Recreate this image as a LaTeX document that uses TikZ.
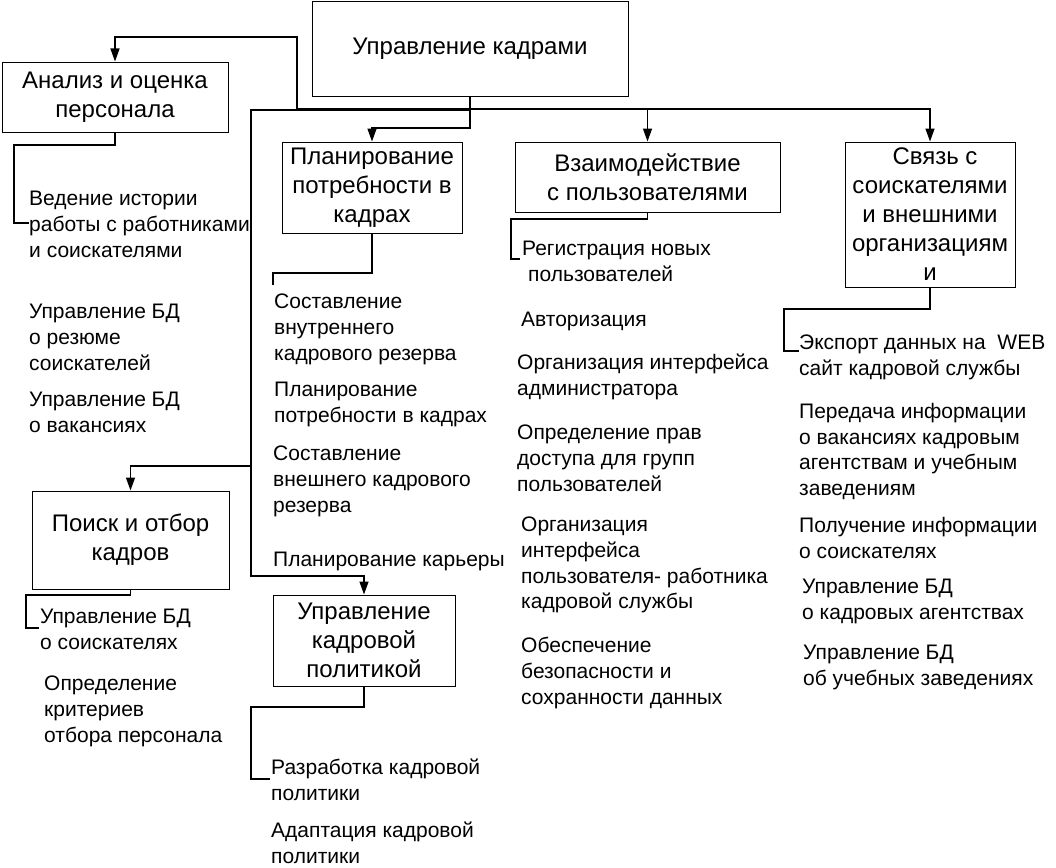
\documentclass[tikz,border=0pt]{standalone}
\usepackage{fontspec}
\setmainfont{Liberation Sans}
\usetikzlibrary{arrows.meta}
\begin{document}
\begin{tikzpicture}[x=1pt,y=-1pt,
  box/.style={draw, line width=1pt, inner sep=0pt, align=center, font={\fontsize{24}{29}\selectfont}},
  item/.style={anchor=north west, inner sep=0pt, align=left, font={\fontsize{21}{25.7}\selectfont\lineskiplimit=-50pt}, execute at begin node={\rule{0pt}{20pt}}, yshift=-7pt},
  conn/.style={line width=1.4pt},
  arr/.style={conn, -{Triangle[length=13pt,width=9pt]}}]
\useasboundingbox (0,0) rectangle (1056,867);

% boxes
\node[box, minimum width=316pt, minimum height=94pt] (main) at (470,49) {Управление кадрами};
\node[box, minimum width=226pt, minimum height=70pt] (anal) at (115,97) {\raisebox{-3pt}{Анализ и оценка}\\\raisebox{-3pt}{персонала}};
\node[box, minimum width=180pt, minimum height=91pt] (plan) at (372,187.5) {Планирование\\потребности в\\кадрах};
\node[box, minimum width=265pt, minimum height=70pt] (vz) at (647.5,177) {Взаимодействие\\с пользователями};
\node[box, minimum width=170pt, minimum height=145pt] (sv) at (930,214.5) {\hspace*{10pt}Связь с\\соискателями\\и внешними\\организациям\\и};
\node[box, minimum width=197pt, minimum height=98pt] (poisk) at (130.5,540) {Поиск и отбор\\кадров};
\node[box, minimum width=182pt, minimum height=91pt] (pol) at (364,640.5) {Управление\\кадровой\\политикой};

% items
\node[item] (t1) at (29,184) {Ведение истории\\работы с работниками\\и соискателями};
\node[item] (t2) at (29,297) {Управление БД\\о резюме\\соискателей};
\node[item] (t3) at (29,385) {Управление БД\\о вакансиях};
\node[item] (t4) at (274,287) {Составление\\внутреннего\\кадрового резерва};
\node[item] (t5) at (274,375) {Планирование\\потребности в кадрах};
\node[item] (t6) at (273,439) {Составление\\внешнего кадрового\\резерва};
\node[item] (t7) at (273,539) {Планирование карьеры};
\node[item] (t8) at (40,602) {Управление БД\\о соискателях};
\node[item] (t9) at (44,669) {Определение\\критериев\\отбора персонала};
\node[item] (t10) at (271,752) {Разработка кадровой\\политики};
\node[item] (t11) at (271,815) {Адаптация кадровой\\политики};
\node[item] (t12) at (522,234) {Регистрация новых\\\hspace*{6pt}пользователей};
\node[item] (t13) at (521,299) {Авторизация};
\node[item] (t14) at (517,347) {Организация интерфейса\\администратора};
\node[item] (t15) at (517,418) {Определение прав\\доступа для групп\\пользователей};
\node[item] (t16) at (521,510) {Организация\\интерфейса\\пользователя- работника\\кадровой службы};
\node[item] (t17) at (521,630) {Обеспечение\\безопасности и\\сохранности данных};
\node[item] (t18) at (799,328) {Экспорт данных на\ \ WEB\\сайт кадровой службы};
\node[item] (t19) at (799,396) {Передача информации\\о вакансиях кадровым\\агентствам и учебным\\заведениям};
\node[item] (t20) at (799,510) {Получение информации\\о соискателях};
\node[item] (t21) at (802,572) {Управление БД\\о кадровых агентствах};
\node[item] (t22) at (803,638) {Управление БД\\об учебных заведениях};

% connectors with arrows
\coordinate (bus) at (470,109);
\draw[arr] (main.south) -- (470,128) -| (plan.north);
\draw[arr] (main.south) -- (bus) -| (vz.north);
\draw[arr] (bus) -| (sv.north);
\draw[arr] (bus) -- (297,109) -- (297,37) -| (anal.north);
\draw[arr] (bus) -- (470,110) -- (251,110) -- (251,466) -| (poisk.north);
\draw[arr] (251,466) -- (251,576) -| (pol.north);

% brackets
\coordinate (e1) at (29,223);
\coordinate (e2) at (273,285);
\coordinate (e3) at (520,259);
\coordinate (e4) at (799,351);
\coordinate (e5) at (39,628);
\coordinate (e6) at (270,779);
\draw[conn] (anal.south) -- (115,145) -- (14,145) -- (14,223) -- (e1);
\draw[conn] (plan.south) -- (372,273) -- (273,273) -- (e2);
\draw[conn] (vz.south) -- (647.5,219) -- (511,219) -- (511,259) -- (e3);
\draw[conn] (sv.south) -- (930,309) -- (784,309) -- (784,351) -- (e4);
\draw[conn] (poisk.south) -- (130.5,595) -- (26,595) -- (26,628) -- (e5);
\draw[conn] (pol.south) -- (364,707) -- (251,707) -- (251,779) -- (e6);
\end{tikzpicture}
\end{document}
